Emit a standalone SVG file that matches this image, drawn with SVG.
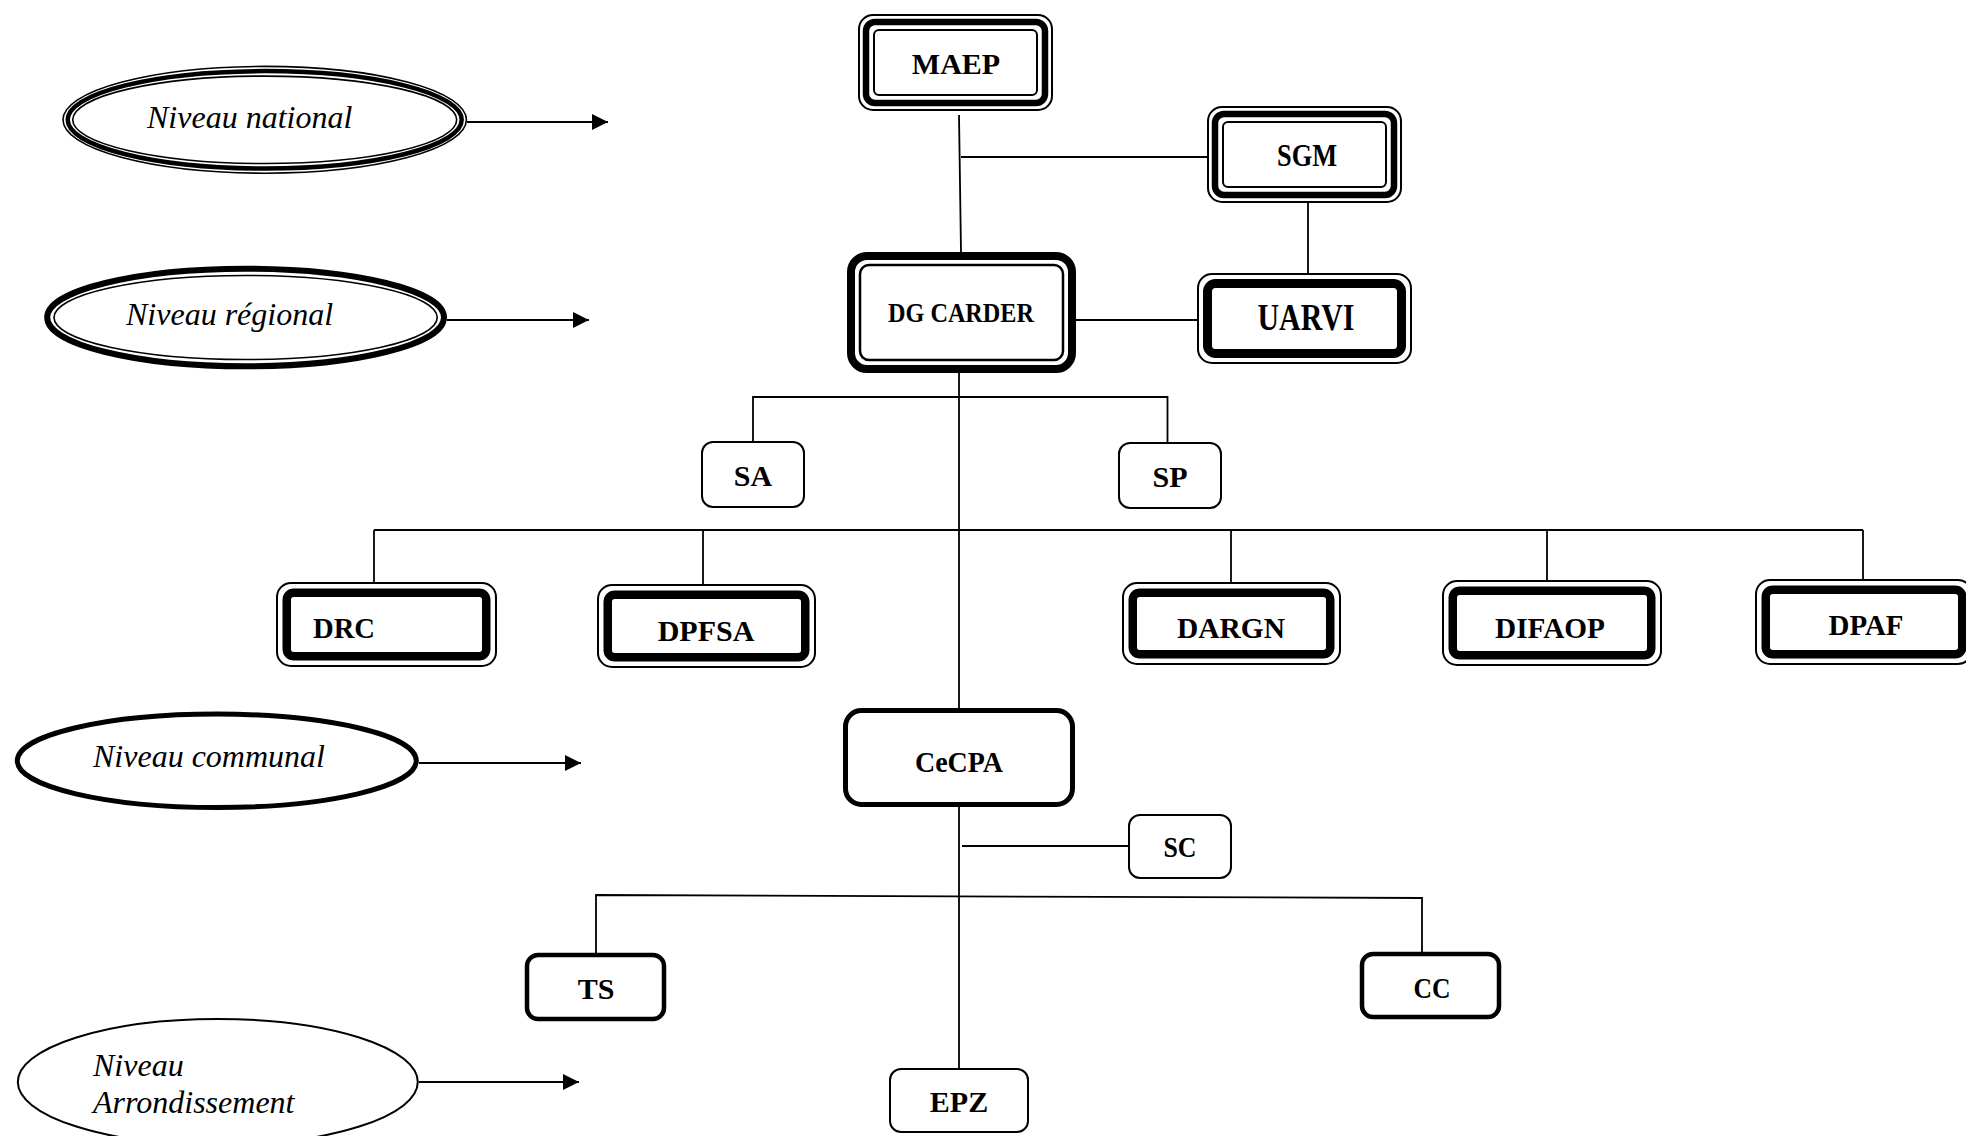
<svg xmlns="http://www.w3.org/2000/svg" width="1966" height="1136" viewBox="0 0 1966 1136">
<style>
.t{font-family:"Liberation Serif","Times New Roman",serif;font-weight:bold;font-size:30px;fill:#000;text-anchor:middle}
.lv{font-family:"Liberation Serif","Times New Roman",serif;font-style:italic;font-size:32px;fill:#000}
.o{fill:#fff;stroke:#000}
.n{fill:none;stroke:#000}
.conn line,.conn polyline{stroke:#000;stroke-width:1.8;fill:none}
.arr{stroke:#000;stroke-width:2;fill:none;marker-end:url(#ah)}
</style>
<defs>
<marker id="ah" viewBox="0 0 10 10" refX="10" refY="5" markerWidth="17" markerHeight="16" markerUnits="userSpaceOnUse" orient="auto"><path d="M0,0L10,5L0,10z" fill="#000"/></marker>
</defs>
<rect width="1966" height="1136" fill="#fff"/>

<g id="connectors" class="conn">
<line x1="959" y1="115" x2="961" y2="252"/>
<line x1="961" y1="157" x2="1207" y2="157"/>
<line x1="1308" y1="203" x2="1308" y2="274"/>
<line x1="1076" y1="320" x2="1198" y2="320"/>
<line x1="959" y1="373" x2="959" y2="708"/>
<polyline points="753,442 753,397 1167.5,397 1167.5,444"/>
<line x1="374" y1="530" x2="1863" y2="530"/>
<line x1="374" y1="530" x2="374" y2="583"/>
<line x1="703" y1="530" x2="703" y2="585"/>
<line x1="1231" y1="530" x2="1231" y2="583"/>
<line x1="1547" y1="530" x2="1547" y2="581"/>
<line x1="1863" y1="530" x2="1863" y2="580"/>
<line x1="959" y1="806" x2="959" y2="1068"/>
<line x1="962" y1="846" x2="1129" y2="846"/>
<polyline points="596,955 596,895 1422,898 1422,954"/>
<line class="arr" x1="467" y1="122" x2="608" y2="122"/>
<line class="arr" x1="447" y1="320" x2="589" y2="320"/>
<line class="arr" x1="419" y1="763" x2="581" y2="763"/>
<line class="arr" x1="419" y1="1082" x2="579" y2="1082"/>
</g>

<g id="lvl-national">
<ellipse class="o" cx="264.7" cy="119.8" rx="201.7" ry="53.4" stroke-width="1.6"/>
<ellipse class="n" cx="264.7" cy="119.8" rx="197" ry="48.7" stroke-width="4.5"/>
<ellipse class="n" cx="264.7" cy="119.8" rx="192" ry="43.7" stroke-width="1.6"/>
<text class="lv" x="147" y="128">Niveau national</text>
</g>
<g id="lvl-regional">
<ellipse class="o" cx="245.6" cy="317.5" rx="198.4" ry="48.8" stroke-width="6"/>
<ellipse class="n" cx="245.6" cy="317.5" rx="191.6" ry="42" stroke-width="1.6"/>
<text class="lv" x="126" y="325">Niveau régional</text>
</g>
<g id="lvl-communal">
<ellipse class="o" cx="216.8" cy="760.8" rx="199.5" ry="46.7" stroke-width="5"/>
<text class="lv" x="93" y="767">Niveau communal</text>
</g>
<g id="lvl-arrondissement">
<ellipse class="o" cx="217.8" cy="1082" rx="200" ry="63" stroke-width="2"/>
<text class="lv" x="93" y="1076">Niveau</text>
<text class="lv" x="93" y="1113">Arrondissement</text>
</g>

<g id="maep">
<rect class="o" x="859" y="15" width="193" height="95" rx="14" stroke-width="2"/>
<rect class="n" x="866" y="22" width="179" height="81" rx="9" stroke-width="6.5"/>
<rect class="n" x="874" y="30" width="163" height="65" rx="5" stroke-width="2"/>
<text class="t" x="956" y="74">MAEP</text>
</g>
<g id="sgm">
<rect class="o" x="1208" y="107" width="193" height="95" rx="14" stroke-width="2"/>
<rect class="n" x="1215" y="114" width="179" height="81" rx="9" stroke-width="6.5"/>
<rect class="n" x="1223" y="122" width="163" height="65" rx="5" stroke-width="2"/>
<text class="t" x="1307" y="166" style="font-size:31px" textLength="60" lengthAdjust="spacingAndGlyphs">SGM</text>
</g>
<g id="dg-carder">
<rect class="o" x="851" y="256" width="221" height="113" rx="16" stroke-width="8"/>
<rect class="n" x="860" y="265" width="203" height="95" rx="9" stroke-width="2.5"/>
<text class="t" x="961" y="322" style="font-size:28px" textLength="146" lengthAdjust="spacingAndGlyphs">DG CARDER</text>
</g>
<g id="uarvi">
<rect class="o" x="1198" y="274" width="213" height="89" rx="14" stroke-width="2"/>
<rect class="n" x="1207.5" y="283.5" width="194" height="70" rx="8" stroke-width="9"/>
<text class="t" x="1306" y="330" style="font-size:37px" textLength="97" lengthAdjust="spacingAndGlyphs">UARVI</text>
</g>
<g id="sa">
<rect class="o" x="702" y="442" width="102" height="65" rx="11" stroke-width="2"/>
<text class="t" x="753" y="486">SA</text>
</g>
<g id="sp">
<rect class="o" x="1119" y="443" width="102" height="65" rx="11" stroke-width="2"/>
<text class="t" x="1170" y="487">SP</text>
</g>
<g id="drc">
<rect class="o" x="277" y="583" width="219" height="83" rx="14" stroke-width="2"/>
<rect class="n" x="286.75" y="592.75" width="199.5" height="63.5" rx="7" stroke-width="8.5"/>
<text class="t" x="313" y="638" style="text-anchor:start" textLength="62" lengthAdjust="spacingAndGlyphs">DRC</text>
</g>
<g id="dpfsa">
<rect class="o" x="598" y="585" width="217" height="82" rx="14" stroke-width="2"/>
<rect class="n" x="607.75" y="594.75" width="197.5" height="62.5" rx="7" stroke-width="8.5"/>
<text class="t" x="706" y="641">DPFSA</text>
</g>
<g id="dargn">
<rect class="o" x="1123" y="583" width="217" height="81" rx="14" stroke-width="2"/>
<rect class="n" x="1132.75" y="592.75" width="197.5" height="61.5" rx="7" stroke-width="8.5"/>
<text class="t" x="1231" y="638" textLength="108" lengthAdjust="spacingAndGlyphs">DARGN</text>
</g>
<g id="difaop">
<rect class="o" x="1443" y="581" width="218" height="84" rx="14" stroke-width="2"/>
<rect class="n" x="1452.75" y="590.75" width="198.5" height="64.5" rx="7" stroke-width="8.5"/>
<text class="t" x="1550" y="638" textLength="110" lengthAdjust="spacingAndGlyphs">DIFAOP</text>
</g>
<g id="dpaf">
<rect class="o" x="1756" y="580" width="216" height="84" rx="14" stroke-width="2"/>
<rect class="n" x="1765.75" y="589.75" width="196.5" height="64.5" rx="7" stroke-width="8.5"/>
<text class="t" x="1866" y="635" textLength="75" lengthAdjust="spacingAndGlyphs">DPAF</text>
</g>
<g id="cecpa">
<rect class="o" x="845.5" y="710.5" width="227" height="94" rx="16" stroke-width="5"/>
<text class="t" x="959" y="772" textLength="88" lengthAdjust="spacingAndGlyphs">CeCPA</text>
</g>
<g id="sc">
<rect class="o" x="1129" y="815" width="102" height="63" rx="11" stroke-width="2"/>
<text class="t" x="1180" y="857" textLength="33" lengthAdjust="spacingAndGlyphs">SC</text>
</g>
<g id="ts">
<rect class="o" x="527" y="955" width="137" height="64" rx="11" stroke-width="4.5"/>
<text class="t" x="596" y="999">TS</text>
</g>
<g id="cc">
<rect class="o" x="1362" y="954" width="137" height="63" rx="11" stroke-width="4.5"/>
<text class="t" x="1432" y="998" textLength="37" lengthAdjust="spacingAndGlyphs">CC</text>
</g>
<g id="epz">
<rect class="o" x="890" y="1069" width="138" height="63" rx="11" stroke-width="2"/>
<text class="t" x="959" y="1112">EPZ</text>
</g>
</svg>
